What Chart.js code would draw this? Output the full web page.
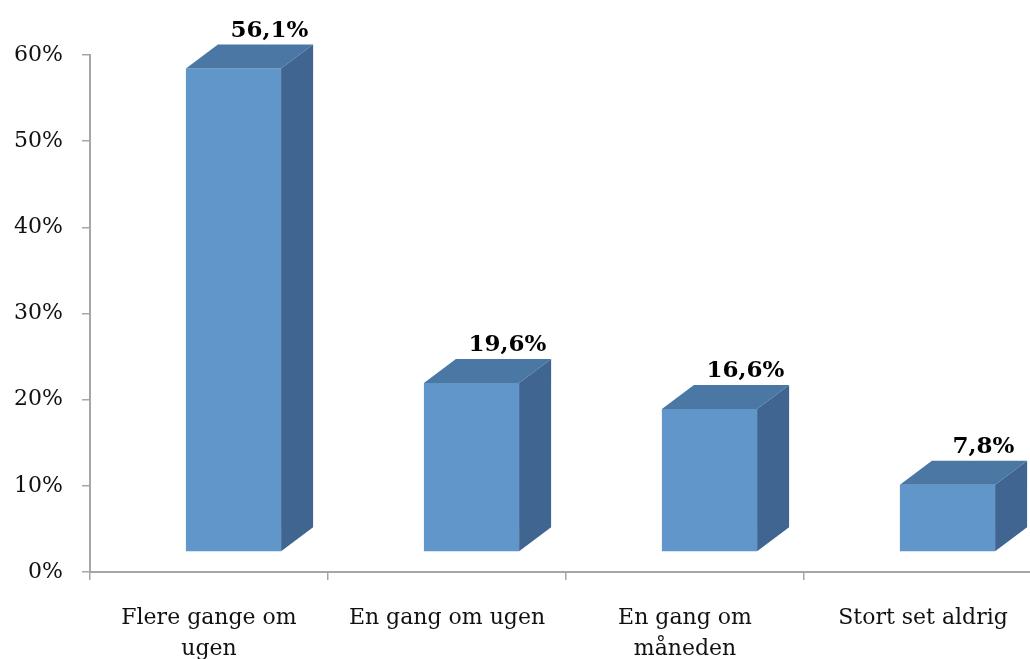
<!DOCTYPE html>
<html>
<head>
<meta charset="utf-8">
<script src="https://cdn.jsdelivr.net/npm/chart.js@4/dist/chart.umd.min.js"></script>
<style>
  html, body { margin: 0; padding: 0; background: #fff; overflow: hidden; width: 1030px; height: 659px; }
  #wrap { width: 1050px; height: 659px; }
</style>
</head>
<body>
<div id="wrap"><canvas id="c" width="1050" height="659"></canvas></div>
<script>
const categories = [['Flere gange om', 'ugen'], 'En gang om ugen', ['En gang om', 'måneden'], 'Stort set aldrig'];
const values = [56.1, 19.6, 16.6, 7.8];
const valueLabels = ['56,1%', '19,6%', '16,6%', '7,8%'];
const yTicks = [0, 10, 20, 30, 40, 50, 60];

const FRONT = '#6096c9';
const TOP = '#4b77a4';
const SIDE = '#3f6590';
const SHIFT_X = 24.5, SHIFT_Y = -20;   // front face shift (3D perspective)
const DEPTH_X = 32, DEPTH_Y = -24;     // bar depth

const bar3d = {
  id: 'bar3d',
  beforeDatasetsDraw(chart) {
    const ctx = chart.ctx;
    ctx.save();
    ctx.translate(SHIFT_X, SHIFT_Y);
  },
  afterDatasetsDraw(chart) {
    const ctx = chart.ctx;
    const meta = chart.getDatasetMeta(0);
    meta.data.forEach((el, i) => {
      const p = el.getProps(['x', 'y', 'base', 'width'], true);
      const l = p.x - p.width / 2, r = p.x + p.width / 2, t = p.y, b = p.base;
      // top face
      ctx.beginPath();
      ctx.moveTo(l, t);
      ctx.lineTo(l + DEPTH_X, t + DEPTH_Y);
      ctx.lineTo(r + DEPTH_X, t + DEPTH_Y);
      ctx.lineTo(r, t);
      ctx.closePath();
      ctx.fillStyle = TOP;
      ctx.fill();
      // side face
      ctx.beginPath();
      ctx.moveTo(r, t);
      ctx.lineTo(r + DEPTH_X, t + DEPTH_Y);
      ctx.lineTo(r + DEPTH_X, b + DEPTH_Y);
      ctx.lineTo(r, b);
      ctx.closePath();
      ctx.fillStyle = SIDE;
      ctx.fill();
      // value label
      ctx.fillStyle = '#000';
      ctx.font = 'bold 23px "DejaVu Serif"';
      ctx.textAlign = 'center';
      ctx.textBaseline = 'alphabetic';
      ctx.fillText(valueLabels[i], p.x + 36, t + DEPTH_Y - 8);
    });
    ctx.restore();
  }
};

new Chart(document.getElementById('c'), {
  type: 'bar',
  data: {
    labels: categories,
    datasets: [{
      data: values,
      backgroundColor: FRONT,
      borderWidth: 0,
      categoryPercentage: 1.0,
      barPercentage: 0.4,
      clip: false
    }]
  },
  options: {
    responsive: false,
    animation: false,
    devicePixelRatio: 1,
    layout: { padding: { top: 55, right: 8, left: 0, bottom: 0 } },
    plugins: { legend: { display: false }, tooltip: { enabled: false } },
    scales: {
      x: {
        afterFit(scale) { scale.height = 87; },
        grid: { display: true, drawOnChartArea: false, drawTicks: true, tickLength: 8, color: '#a6a6a6', lineWidth: 1.5 },
        border: { display: true, color: '#a6a6a6', width: 2 },
        ticks: { color: '#111', font: { family: '"DejaVu Serif"', size: 22, lineHeight: 1.4 }, padding: 23, maxRotation: 0, autoSkip: false }
      },
      y: {
        min: 0, max: 60,
        afterFit(scale) { scale.width = 90; },
        afterBuildTicks(scale) { scale.ticks = yTicks.map(v => ({ value: v })); },
        grid: { display: true, drawOnChartArea: false, drawTicks: true, tickLength: 8, color: '#a6a6a6', lineWidth: 1.5 },
        border: { display: true, color: '#a6a6a6', width: 2 },
        ticks: { color: '#111', font: { family: '"DejaVu Serif"', size: 22 }, padding: 19, callback: v => v + '%' }
      }
    }
  },
  plugins: [bar3d]
});
</script>
</body>
</html>
